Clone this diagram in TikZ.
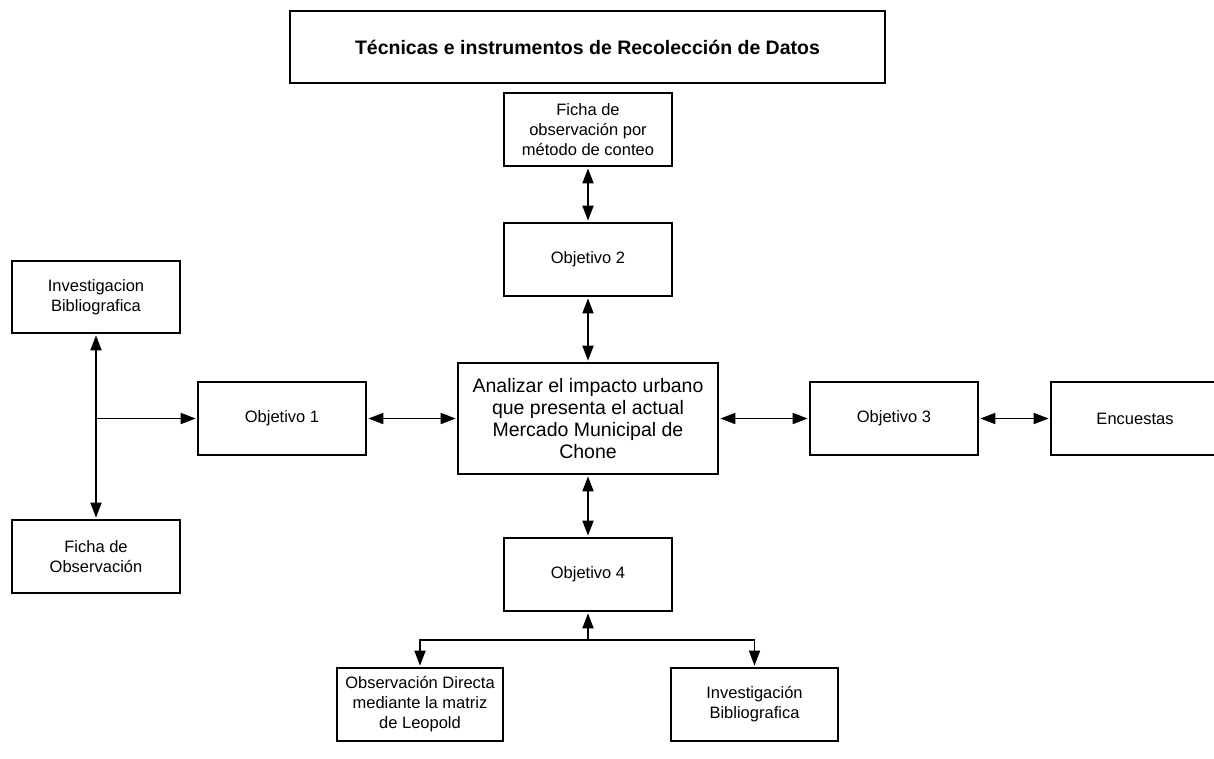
\documentclass[tikz,border=0pt]{standalone}
\usepackage{fontspec}
\setmainfont{Liberation Sans}
\usetikzlibrary{arrows.meta}
\begin{document}
\begin{tikzpicture}[x=1pt,y=-1pt,
  box/.style={draw=black,line width=1.7pt,inner sep=0pt,align=center,
    minimum width=168pt,minimum height=73pt,
    font=\fontsize{16.5}{20}\selectfont},
  link/.style={line width=1.8pt,draw=black},
  tip/.style={-{Triangle[length=15pt,width=11pt]}},
  both/.style={{Triangle[length=15pt,width=11pt]}-{Triangle[length=15pt,width=11pt]}}
]
\useasboundingbox (0,0) rectangle (1214,758);
\node[box,minimum width=595pt,minimum height=72pt,font=\fontsize{19.5}{23}\selectfont\bfseries] (title) at (587.5,47) {Técnicas e instrumentos de Recolección de Datos};
\node[box] (ficha2) at (588,129.5) {Ficha de\\observación por\\método de conteo};
\node[box] (obj2) at (588,259.5) {Objetivo 2};
\node[box,minimum width=260pt,minimum height=111pt,font=\fontsize{19.5}{21.7}\selectfont] (center) at (588,418.5) {Analizar el impacto urbano\\que presenta el actual\\Mercado Municipal de\\Chone};
\node[box] (obj1) at (282,418.5) {Objetivo 1};
\node[box,minimum height=72pt] (invL) at (96,297) {Investigacion\\Bibliografica};
\node[box] (fichaL) at (96,556.5) {Ficha de\\Observación};
\node[box] (obj3) at (894,418.5) {Objetivo 3};
\node[box] (enc) at (1135,418.5) {Encuestas};
\node[box] (obj4) at (588,574.5) {Objetivo 4};
\node[box,minimum width=166pt] (obsD) at (420,704.5) {Observación Directa\\mediante la matriz\\de Leopold};
\node[box,minimum width=167pt] (invB) at (754.5,704.5) {Investigación\\Bibliografica};
\coordinate (lj) at (96,418.5);
\coordinate (bj) at (588,640);
\coordinate (bl) at (420,640);
\coordinate (br) at (754.5,640);
\draw[link,both,shorten >=1.5pt,shorten <=1.5pt] (ficha2.south) -- (obj2.north);
\draw[link,both,shorten >=1.5pt,shorten <=1.5pt] (obj2.south) -- (center.north);
\draw[link,both,shorten >=1.5pt,shorten <=1.5pt] (center.south) -- (obj4.north);
\draw[link,both,shorten >=1.5pt,shorten <=1.5pt] (obj1.east) -- (center.west);
\draw[link,both,shorten >=1.5pt,shorten <=1.5pt] (center.east) -- (obj3.west);
\draw[link,both,shorten >=1.5pt,shorten <=1.5pt] (obj3.east) -- (enc.west);
\draw[link,both,shorten >=1.5pt,shorten <=1.5pt] (invL.south) -- (fichaL.north);
\draw[link,tip,shorten >=1.5pt] (lj) -- (obj1.west);
\draw[link,tip,shorten >=1.5pt] (bj) -- (obj4.south);
\draw[link,tip,shorten >=1.5pt] (bj) -- (bl) -- (obsD.north);
\draw[link,tip,shorten >=1.5pt] (bj) -- (br) -- (invB.north);
\end{tikzpicture}
\end{document}
